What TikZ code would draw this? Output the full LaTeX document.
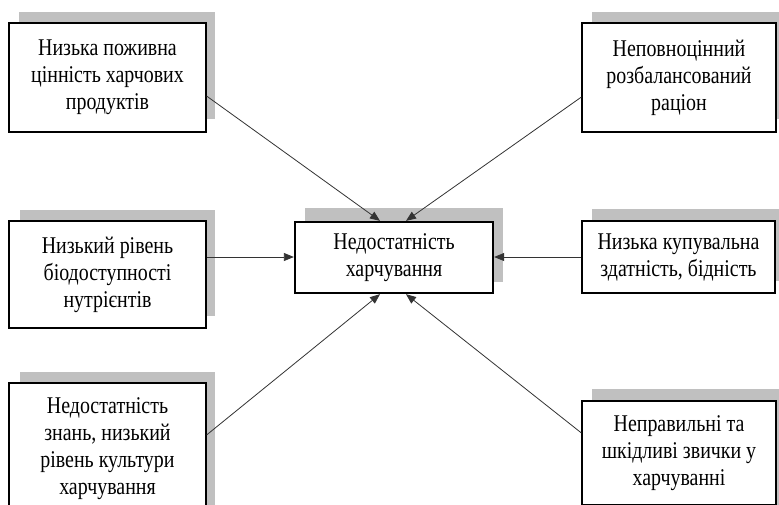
\documentclass[tikz,border=0pt]{standalone}
\usepackage{fontspec}
\setmainfont[FakeStretch=0.83]{Liberation Serif}
\usetikzlibrary{arrows.meta}
\definecolor{shadowgray}{HTML}{C0C0C0}
\tikzset{
  x=1pt, y=-1pt,
  boxnode/.style={draw=black, line width=1.1pt, fill=white, align=center, inner sep=0pt,
    font=\fontsize{24}{27}\selectfont},
  mainnode/.style={boxnode, line width=2.3pt},
  shadowfill/.style={fill=shadowgray, draw=none},
  conn/.style={draw=black!80, line width=0.8pt},
  arr/.style={conn, -{Triangle[length=10pt,width=8pt]}}
}
\begin{document}
\begin{tikzpicture}
\clip (0,0) rectangle (779,504);
\fill[white] (0,0) rectangle (779,504);
% shadows
\fill[shadowfill] (19,12) rectangle (215,119);
\fill[shadowfill] (592,12) rectangle (790,119);
\fill[shadowfill] (305,208) rectangle (503,282);
\fill[shadowfill] (20,210) rectangle (215,316);
\fill[shadowfill] (592,209) rectangle (790,281);
\fill[shadowfill] (20,372) rectangle (215,510);
\fill[shadowfill] (592,389) rectangle (790,510);
% boxes
\node[boxnode, minimum width=197pt, minimum height=109pt] (b1) at (107.5,77.5)
  {Низька поживна\\цінність харчових\\продуктів};
\node[boxnode, minimum width=194pt, minimum height=109pt] (b2) at (679,77.5)
  {Неповноцінний\\розбалансований\\раціон};
\node[mainnode, minimum width=198pt, minimum height=71pt] (c) at (394,257.5)
  {Недостатність\\харчування};
\node[boxnode, minimum width=197pt, minimum height=107pt] (b4) at (107.5,274.5)
  {Низький рівень\\біодоступності\\нутрієнтів};
\node[boxnode, minimum width=193pt, minimum height=72pt] (b5) at (678.5,257)
  {Низька купувальна\\здатність, бідність};
\node[boxnode, minimum width=197pt, minimum height=132pt] (b6) at (107.5,449)
  {Недостатність\\знань, низький\\рівень культури\\харчування};
\node[boxnode, minimum width=194pt, minimum height=104pt] (b7) at (679,453)
  {Неправильні та\\шкідливі звички у\\харчуванні};
% connector end points
\coordinate (s1) at (b1.east |- 0,96);
\coordinate (s2) at (b2.west |- 0,97);
\coordinate (s4) at (b4.east |- 0,257);
\coordinate (s5) at (b5.west |- 0,257);
\coordinate (s6) at (b6.east |- 0,435);
\coordinate (s7) at (b7.west |- 0,433);
\coordinate (t1) at (c.north -| 380,0);
\coordinate (t2) at (c.north -| 406,0);
\coordinate (t4) at (c.west |- 0,257);
\coordinate (t5) at (c.east |- 0,257);
\coordinate (t6) at (c.south -| 380,0);
\coordinate (t7) at (c.south -| 406,0);
\draw[arr] (s1) -- (t1);
\draw[arr] (s2) -- (t2);
\draw[arr] (s4) -- (t4);
\draw[arr] (s5) -- (t5);
\draw[arr] (s6) -- (t6);
\draw[arr] (s7) -- (t7);
\end{tikzpicture}
\end{document}
